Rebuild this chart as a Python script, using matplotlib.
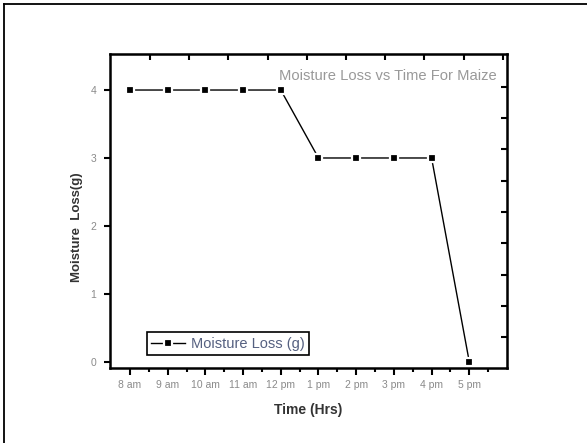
import matplotlib

matplotlib.use("Agg")
import matplotlib.pyplot as plt
import numpy as np
from matplotlib.lines import Line2D

plt.rcParams["font.family"] = ["Liberation Sans", "DejaVu Sans"]

# data
times = ["8 am", "9 am", "10 am", "11 am", "12 pm", "1 pm", "2 pm", "3 pm", "4 pm", "5 pm"]
moisture_loss = [4, 4, 4, 4, 4, 3, 3, 3, 3, 0]
y_ticks = [0, 1, 2, 3, 4]

fig = plt.figure(figsize=(5.87, 4.43), dpi=100, facecolor="white")
ax = fig.add_axes([110 / 587, 1 - 368 / 443, 397 / 587, 314 / 443])

x = np.arange(len(times))
ax.plot(x, moisture_loss, color="black", linewidth=1.0, marker="s",
        markersize=5.5, markerfacecolor="black", markeredgecolor="white",
        markeredgewidth=1.6, label="Moisture Loss (g)")

ax.set_xlim(-0.53, 10.0)
ax.set_ylim(-0.09, 4.53)
ax.set_xticks(x)
ax.set_xticklabels(times)
ax.set_xticks(x + 0.5, minor=True)
ax.set_yticks(y_ticks)

for s in ax.spines.values():
    s.set_linewidth(1.8)
    s.set_color("black")

ax.tick_params(axis="x", which="major", direction="out", length=5, width=1.5,
               labelsize=7.5, labelcolor="#8a8a8a", pad=4)
ax.tick_params(axis="x", which="minor", direction="out", length=3, width=1.5)
ax.tick_params(axis="y", which="major", direction="out", length=4, width=1.5,
               labelsize=7.5, labelcolor="#8a8a8a", pad=6)

# mirrored inward ticks on top and right (own spacing, as in the reference)
top = ax.secondary_xaxis("top")
top.set_xticks(np.arange(0.53, 10.0, 1.04))
top.tick_params(direction="in", length=4, width=1.5, labeltop=False)
right = ax.secondary_yaxis("right")
right.set_yticks(np.arange(0.36, 4.2, 0.461))
right.tick_params(direction="in", length=4, width=1.5, labelright=False)

ax.set_xlabel("Time (Hrs)", fontsize=10, fontweight="bold", color="#333333", labelpad=9)
ax.set_ylabel("Moisture  Loss(g)", fontsize=9.5, fontweight="bold", color="#333333")
ax.yaxis.set_label_coords(-0.068, 0.449)

ax.text(0.975, 0.93, "Moisture Loss vs Time For Maize", transform=ax.transAxes,
        ha="right", va="center", fontsize=10.6, color="#999999")

leg = ax.legend(loc="lower left", bbox_to_anchor=(0.093, 0.041), borderaxespad=0,
                fontsize=10.5, fancybox=False, edgecolor="black", framealpha=1,
                handlelength=2.3, handletextpad=0.4, borderpad=0.3,
                labelcolor="#556080")
leg.get_frame().set_linewidth(1.2)

# outer frame (top and left edges visible in the reference)
fig.add_artist(Line2D([4 / 587, 1], [1 - 4 / 443, 1 - 4 / 443], color="black",
                      linewidth=1.3, transform=fig.transFigure))
fig.add_artist(Line2D([4 / 587, 4 / 587], [0, 1 - 4 / 443], color="black",
                      linewidth=1.3, transform=fig.transFigure))

fig.savefig("out.png", dpi=100, facecolor="white")
